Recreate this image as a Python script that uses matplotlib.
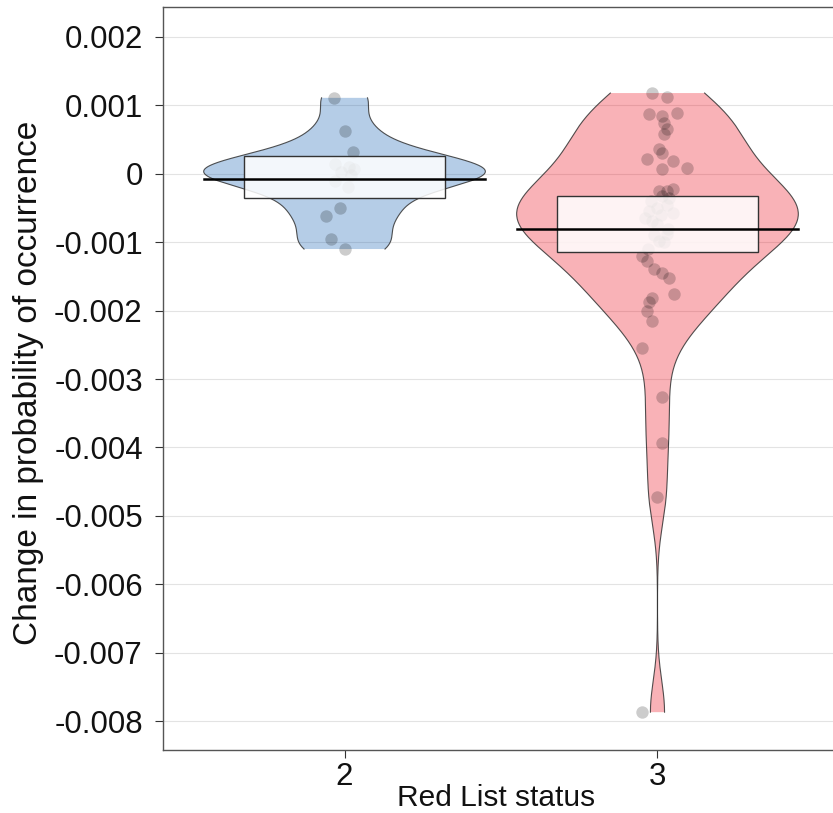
import matplotlib.pyplot as plt
import numpy as np

plt.rcParams['font.family'] = ['Liberation Sans', 'DejaVu Sans']

# Red List status groups
groups = [2, 3]
bean_colors = ['#0C5BB0', '#EE0011']

# change in probability of occurrence, one value per species
vals_2 = [0.00111, 0.00063, 0.00032, 0.00015, 0.0001, 0.00007, 0.00003,
          -0.00002, -0.0001, -0.0002, -0.0005, -0.00061, -0.00096, -0.0011]
jit_2 = [-0.035, 0.0, 0.026, -0.03, 0.013, 0.03, -0.01,
         0.02, -0.029, 0.01, -0.013, -0.058, -0.042, 0.0]

vals_3 = [0.00118, 0.00112, 0.00088, 0.00085, 0.00089, 0.00074, 0.00066, 0.00058,
          0.00036, 0.00031, 0.00022, 0.00019, 0.00009, 0.00007, -0.00025, -0.00025,
          -0.00022, -0.00032, -0.00035, -0.0004, -0.00045, -0.0005, -0.00054, -0.00058,
          -0.0006, -0.00065, -0.00069, -0.00073, -0.0008, -0.00088, -0.0009, -0.00098,
          -0.001, -0.0011, -0.0012, -0.00127, -0.00139, -0.00145, -0.00152, -0.00175,
          -0.00181, -0.00188, -0.002, -0.00215, -0.00254, -0.00327, -0.00393, -0.00473,
          -0.00787]
jit_3 = [-0.016, 0.029, -0.026, 0.016, 0.061, 0.022, 0.029, 0.022,
         0.006, 0.016, -0.032, 0.048, 0.093, 0.016, 0.006, 0.029,
         0.048, 0.016, 0.038, -0.02, 0.03, 0.0, -0.026, 0.048,
         0.01, -0.04, -0.016, -0.003, 0.035, 0.029, -0.01, 0.006,
         0.02, -0.03, -0.048, -0.035, -0.01, 0.016, 0.038, 0.054,
         -0.016, -0.026, -0.032, -0.016, -0.051, 0.016, 0.013, 0.0,
         -0.048]

# mean and inference band
means = [-0.00007, -0.0008]
band_lo = [-0.00035, -0.00115]
band_hi = [0.00026, -0.00032]

yticks = [0.002, 0.001, 0, -0.001, -0.002, -0.003, -0.004, -0.005, -0.006, -0.007, -0.008]
ytick_labels = ['0.002', '0.001', '0', '-0.001', '-0.002', '-0.003', '-0.004',
                '-0.005', '-0.006', '-0.007', '-0.008']


def bw_nrd0(x):
    x = np.asarray(x)
    sd = np.std(x, ddof=1)
    q1, q3 = np.percentile(x, [25, 75])
    lo = min(sd, (q3 - q1) / 1.34)
    return 0.9 * lo * len(x) ** (-0.2)


def bean(x):
    x = np.asarray(x)
    bw = bw_nrd0(x)
    yy = np.linspace(x.min(), x.max(), 400)
    d = np.exp(-0.5 * ((yy[:, None] - x[None, :]) / bw) ** 2).sum(axis=1)
    return yy, d / d.max() * 0.45


fig = plt.figure(figsize=(8.33, 8.13), dpi=100)
ax = fig.add_axes([163 / 833, 63 / 813, 676 / 833, 743 / 813])

for t in yticks:
    ax.axhline(t, color='#e3e3e3', lw=0.8, zorder=0)

data = [(vals_2, jit_2), (vals_3, jit_3)]
for i, g in enumerate(groups):
    v, j = data[i]
    yy, w = bean(v)
    ax.fill_betweenx(yy, g - w, g + w, facecolor=bean_colors[i], alpha=0.3,
                     edgecolor='none', zorder=1)
    ax.plot(g - w, yy, color='#333333', lw=0.8, alpha=0.85, zorder=2)
    ax.plot(g + w, yy, color='#333333', lw=0.8, alpha=0.85, zorder=2)
    ax.scatter(g + np.array(j), v, s=80, color='black', alpha=0.2,
               linewidths=0, zorder=3)
    ax.add_patch(plt.Rectangle((g - 0.32, band_lo[i]), 0.64, band_hi[i] - band_lo[i],
                               facecolor='white', alpha=0.85, edgecolor='none', zorder=4))
    ax.add_patch(plt.Rectangle((g - 0.32, band_lo[i]), 0.64, band_hi[i] - band_lo[i],
                               facecolor='none', edgecolor='#333333', lw=1.0, zorder=5))
    ax.plot([g - 0.45, g + 0.45], [means[i], means[i]], color='black', lw=1.8, zorder=6)

ax.set_xlim(1.42, 3.58)
ax.set_ylim(-0.008423, 0.002438)
ax.set_xticks(groups)
ax.set_xticklabels([str(g) for g in groups])
ax.set_yticks(yticks)
ax.set_yticklabels(ytick_labels)

for s in ax.spines.values():
    s.set_color('#555555')
    s.set_linewidth(1.0)

ax.tick_params(axis='both', direction='out', length=6, width=0.8, color='#333333',
               labelsize=22.5, labelcolor='#111111')
ax.tick_params(axis='y', pad=8.5)
ax.tick_params(axis='x', pad=2.5)

ax.set_xlabel('Red List status', fontsize=21.5, color='#111111')
ax.xaxis.set_label_coords(0.4926, -0.046)
ax.set_ylabel('Change in probability of occurrence', fontsize=24, color='#111111')
ax.yaxis.set_label_coords(-0.176, 0.494)

fig.savefig('out.png', dpi=100)
